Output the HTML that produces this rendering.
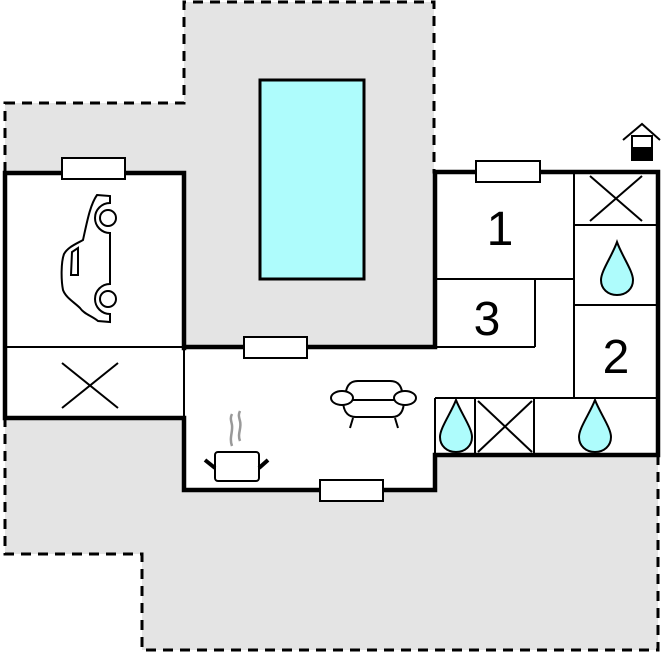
<!DOCTYPE html>
<html><head><meta charset="utf-8"><style>
html,body{margin:0;padding:0;background:#fff;}
svg{display:block;}
text{font-family:"Liberation Sans",sans-serif;}
</style></head><body>
<svg width="664" height="652" viewBox="0 0 664 652" xmlns="http://www.w3.org/2000/svg">
<path d="M5,103 H184 V2 H434 V172 H658 V650 H142 V554 H5 Z" fill="#e4e4e4" stroke="#000" stroke-width="3" stroke-dasharray="10,7"/>
<rect x="5" y="173" width="179" height="245" fill="#fff"/>
<rect x="184" y="347" width="251" height="143" fill="#fff"/>
<rect x="435" y="172" width="223" height="283" fill="#fff"/>
<rect x="260" y="80" width="104" height="199" fill="#aefcfc" stroke="#000" stroke-width="3"/>
<g stroke="#000" stroke-width="2" fill="none">
<line x1="5" y1="347" x2="184" y2="347"/>
<line x1="184" y1="347" x2="184" y2="418"/>
<line x1="574" y1="172" x2="574" y2="398"/>
<line x1="435" y1="279" x2="574" y2="279"/>
<line x1="535" y1="279" x2="535" y2="347"/>
<line x1="435" y1="347" x2="535" y2="347"/>
<line x1="574" y1="225" x2="658" y2="225"/>
<line x1="574" y1="305" x2="658" y2="305"/>
<line x1="435" y1="398" x2="658" y2="398"/>
<line x1="435" y1="398" x2="435" y2="455"/>
<line x1="475" y1="398" x2="475" y2="455"/>
<line x1="534" y1="398" x2="534" y2="455"/>
<line x1="62" y1="363" x2="118" y2="408"/>
<line x1="118" y1="363" x2="62" y2="408"/>
<line x1="590" y1="176" x2="642" y2="221"/>
<line x1="642" y1="176" x2="590" y2="221"/>
<line x1="478" y1="401" x2="532" y2="452"/>
<line x1="532" y1="401" x2="478" y2="452"/>
</g>
<g stroke="#000" stroke-width="4.5" fill="none" stroke-linecap="square">
<path d="M184,348 V173 H5 V418 H184 V490 H435 V455 H658 V172 H435 V347 H184"/>
</g>
<g fill="#fff" stroke="#000" stroke-width="2">
<rect x="62" y="158" width="63" height="21"/>
<rect x="244" y="337" width="63" height="21"/>
<rect x="320" y="480" width="63" height="21"/>
<rect x="476" y="161" width="64" height="21"/>
</g>
<text x="500" y="245" font-size="48" text-anchor="middle">1</text>
<text x="487" y="335" font-size="48" text-anchor="middle">3</text>
<text x="616" y="373" font-size="48" text-anchor="middle">2</text>
<g fill="#aefcfc" stroke="#000" stroke-width="2">
<path d="M617,242 C622,256 633,271 633,280 C633,289 626,295 617,295 C608,295 601,289 601,280 C601,271 612,256 617,242 Z"/>
<path d="M456,400 C461,413 472,428 472,437 C472,446 465,452 456,452 C447,452 440,446 440,437 C440,428 451,413 456,400 Z"/>
<path d="M595,400 C600,413 611,428 611,437 C611,446 604,452 595,452 C586,452 579,446 579,437 C579,428 590,413 595,400 Z"/>
</g>
<g stroke="#000" stroke-width="2" fill="none">
<path d="M623,140 L642,124 L660,140"/>
<rect x="632" y="136" width="20" height="24" fill="#fff"/>
<rect x="632" y="148" width="20" height="12" fill="#000"/>
</g>
<g stroke="#000" stroke-width="2" fill="#fff">
<path d="M97,195 L110,196 L110,203 A15,15 0 0 0 110,233 L110,284 A15,15 0 0 0 110,314 L110,322 L98,321 C92,316 84,314 80,308 C74,302 66,298 63,290 C61,280 61,262 64,254 C68,247 76,244 83,240 C87,222 90,205 97,195 Z"/>
<circle cx="108" cy="218" r="8"/>
<circle cx="108" cy="299" r="8"/>
<path d="M71,275 L72,252 L78,248 L78,275 Z"/>
</g>
<g stroke="#000" stroke-width="2" fill="#fff">
<path d="M345,402 C345,385 350,381 358,381 H390 C398,381 403,385 403,402 Z"/>
<path d="M343,400 C343,414 350,417 356,417 H392 C398,417 404,414 404,400 Z"/>
<ellipse cx="342" cy="398" rx="11" ry="7"/>
<ellipse cx="405" cy="398" rx="11" ry="7"/>
<line x1="353" y1="418" x2="350" y2="428"/>
<line x1="395" y1="418" x2="398" y2="428"/>
</g>
<g stroke="#999" stroke-width="2.5" fill="none">
<path d="M232,446 C229,438 233,432 232,425 C231,420 230,418 232,414"/>
<path d="M240,441 C237,434 242,428 240,421 C239,417 238,415 240,411"/>
</g>
<g stroke="#000" fill="#fff">
<rect x="215" y="452" width="44" height="29" rx="3" stroke-width="2"/>
<line x1="205" y1="460" x2="215" y2="468" stroke-width="4"/>
<line x1="259" y1="468" x2="268" y2="460" stroke-width="4"/>
</g>
</svg>
</body></html>
